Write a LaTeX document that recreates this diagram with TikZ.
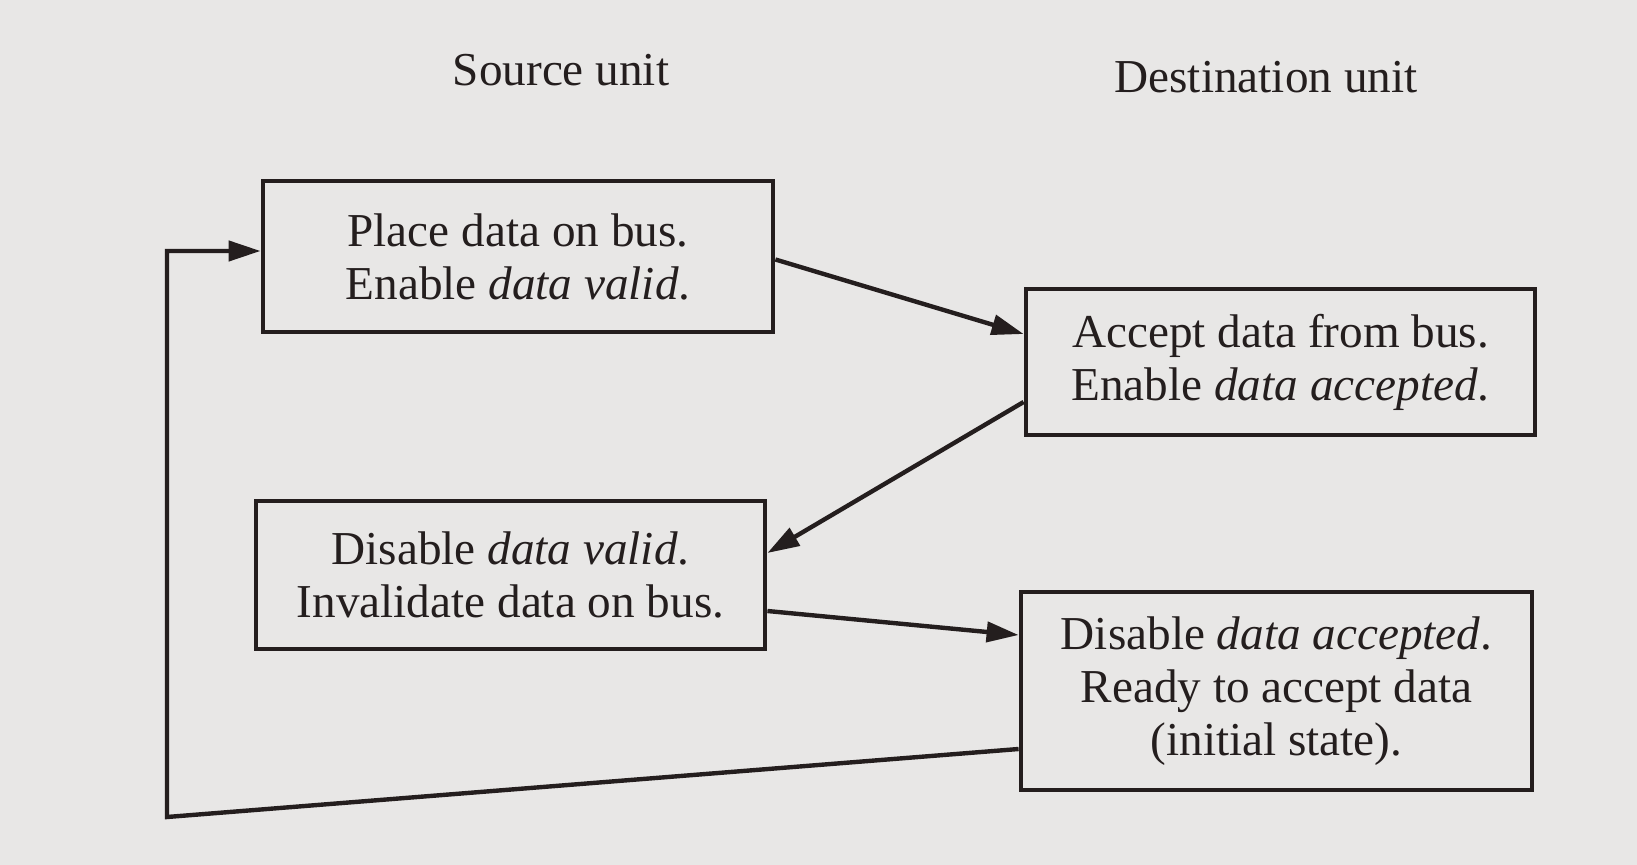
\documentclass[tikz,border=0pt]{standalone}
\usepackage{fontspec}
\setmainfont{Liberation Serif}
\usetikzlibrary{arrows.meta,calc}
\definecolor{paper}{RGB}{232,231,230}
\definecolor{ink}{RGB}{36,30,30}
\tikzset{
  stepbox/.style={draw=ink, line width=2.4pt, fill=paper, align=center,
    inner sep=0pt, font=\fontsize{23.6}{26.5}\selectfont, text=ink},
  heading/.style={font=\fontsize{23.6}{26}\selectfont, text=ink},
  flow/.style={draw=ink, line width=2.2pt, line join=miter,
    -{Triangle[length=16pt,width=10pt]}},
}
\begin{document}
\begin{tikzpicture}[x=0.5pt,y=-0.5pt]
  \fill[paper] (0,0) rectangle (1637,865);
  \useasboundingbox (0,0) rectangle (1637,865);

  \node[heading] (src) at (561,70) {Source unit};
  \node[heading] (dst) at (1266,77) {Destination unit};

  \node[stepbox, minimum width=255pt, minimum height=75.5pt] (place) at (518,256.5)
    {Place data on bus.\\Enable \textit{data valid}.};
  \node[stepbox, minimum width=254.5pt, minimum height=73pt] (accept) at (1280.5,362)
    {Accept data from bus.\\Enable \textit{data accepted}.};
  \node[stepbox, minimum width=254.5pt, minimum height=74pt] (invalid) at (510.5,575)
    {Disable \textit{data valid}.\\Invalidate data on bus.};
  \node[stepbox, minimum width=255.5pt, minimum height=99pt] (ready) at (1276.5,691)
    {Disable \textit{data accepted}.\\Ready to accept data\\(initial state).};

  % handshake sequence
  \draw[flow] ($(place.east)+(0,3)$) -- ($(accept.west)+(0,-28)$);
  \draw[flow] ($(accept.west)+(0,40)$) -- ($(invalid.east)+(0,-22)$);
  \draw[flow] ($(invalid.east)+(0,36)$) -- ($(ready.west)+(0,-56)$);

  % return to the initial state
  \coordinate (lowcorner) at (167,817);
  \coordinate (highcorner) at (167,251);
  \draw[flow] ($(ready.west)+(0,58)$) -- (lowcorner) -- (highcorner)
    -- (highcorner -| place.west);
\end{tikzpicture}
\end{document}
